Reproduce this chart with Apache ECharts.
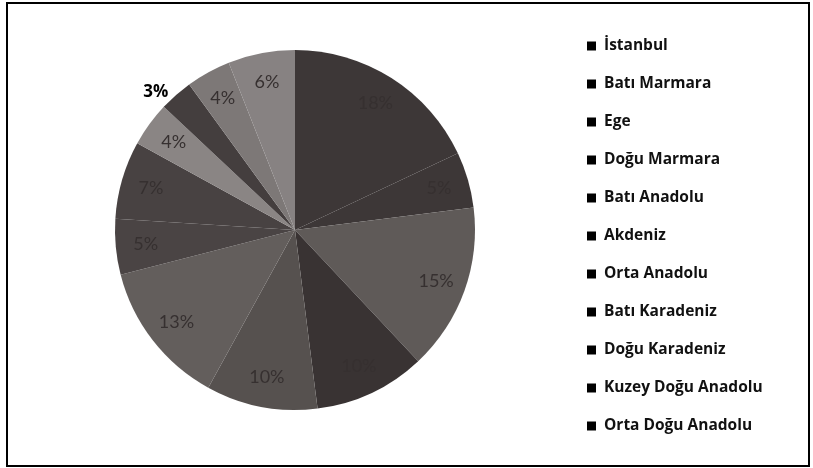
<!DOCTYPE html>
<html>
<head>
<meta charset="utf-8">
<script src="https://cdn.jsdelivr.net/npm/echarts@6/dist/echarts.min.js"></script>
<style>html,body{margin:0;padding:0;background:#fff;}#c{width:813px;height:468px;}</style>
</head>
<body>
<div id="c"></div>
<script>
// Regions (12 NUTS-1 regions; the 12th is cut from the legend in the reference)
const regions = ['İstanbul','Batı Marmara','Ege','Doğu Marmara','Batı Anadolu','Akdeniz','Orta Anadolu','Batı Karadeniz','Doğu Karadeniz','Kuzey Doğu Anadolu','Orta Doğu Anadolu','Güneydoğu Anadolu'];
const shares = [18,5,15,10,10,13,5,7,4,3,4,6];
const legendNames = regions.slice(0, 11);
const sliceColors = ['#3d3737','#3d3737','#5f5a58','#393333','#56514f','#635e5c','#4a4444','#484242','#8a8584','#443e3e','#7d7877','#878282'];

const chart = echarts.init(document.getElementById('c'));
const center = [295, 230];
const pieData = regions.map((n, i) => ({ name: n, value: shares[i], itemStyle: { color: sliceColors[i] } }));
const labelData = regions.map((n, i) => {
  const d = { name: n, value: shares[i] };
  if (n === 'Kuzey Doğu Anadolu') {
    d.label = { position: 'outside', color: '#000', fontWeight: 'bold', fontSize: 17, fontFamily: 'Open Sans' };
    d.labelLine = { show: false, length: 4, length2: 0 };
  }
  return d;
});
chart.setOption({
  backgroundColor: '#fff',
  animation: false,
  legend: {
    orient: 'vertical', left: 582, top: 33,
    data: legendNames,
    icon: 'rect', itemWidth: 9, itemHeight: 9, itemGap: 22,
    itemStyle: { color: '#000', borderWidth: 0 },
    textStyle: { fontFamily: 'Open Sans', fontWeight: 'bold', fontSize: 15.5, color: '#111', lineHeight: 16, padding: [0,0,0,3] }
  },
  graphic: [{
    type: 'rect', shape: { x: 7, y: 3, width: 802, height: 463 },
    style: { fill: 'none', stroke: '#000', lineWidth: 2 }, silent: true
  }],
  series: [{
    type: 'pie', center: center, radius: [0, 180], startAngle: 90, clockwise: true,
    itemStyle: { borderWidth: 0 },
    label: { show: false }, labelLine: { show: false }, silent: true,
    data: pieData
  }, {
    type: 'pie', center: center, radius: [114, 180], startAngle: 90, clockwise: true,
    itemStyle: { color: 'rgba(0,0,0,0)', borderWidth: 0 }, silent: true, legendHoverLink: false,
    label: { show: true, position: 'inside', formatter: '{c}%', fontFamily: 'Lato', fontSize: 18, color: '#363030' },
    labelLine: { show: false },
    data: labelData
  }]
});
</script>
</body>
</html>
